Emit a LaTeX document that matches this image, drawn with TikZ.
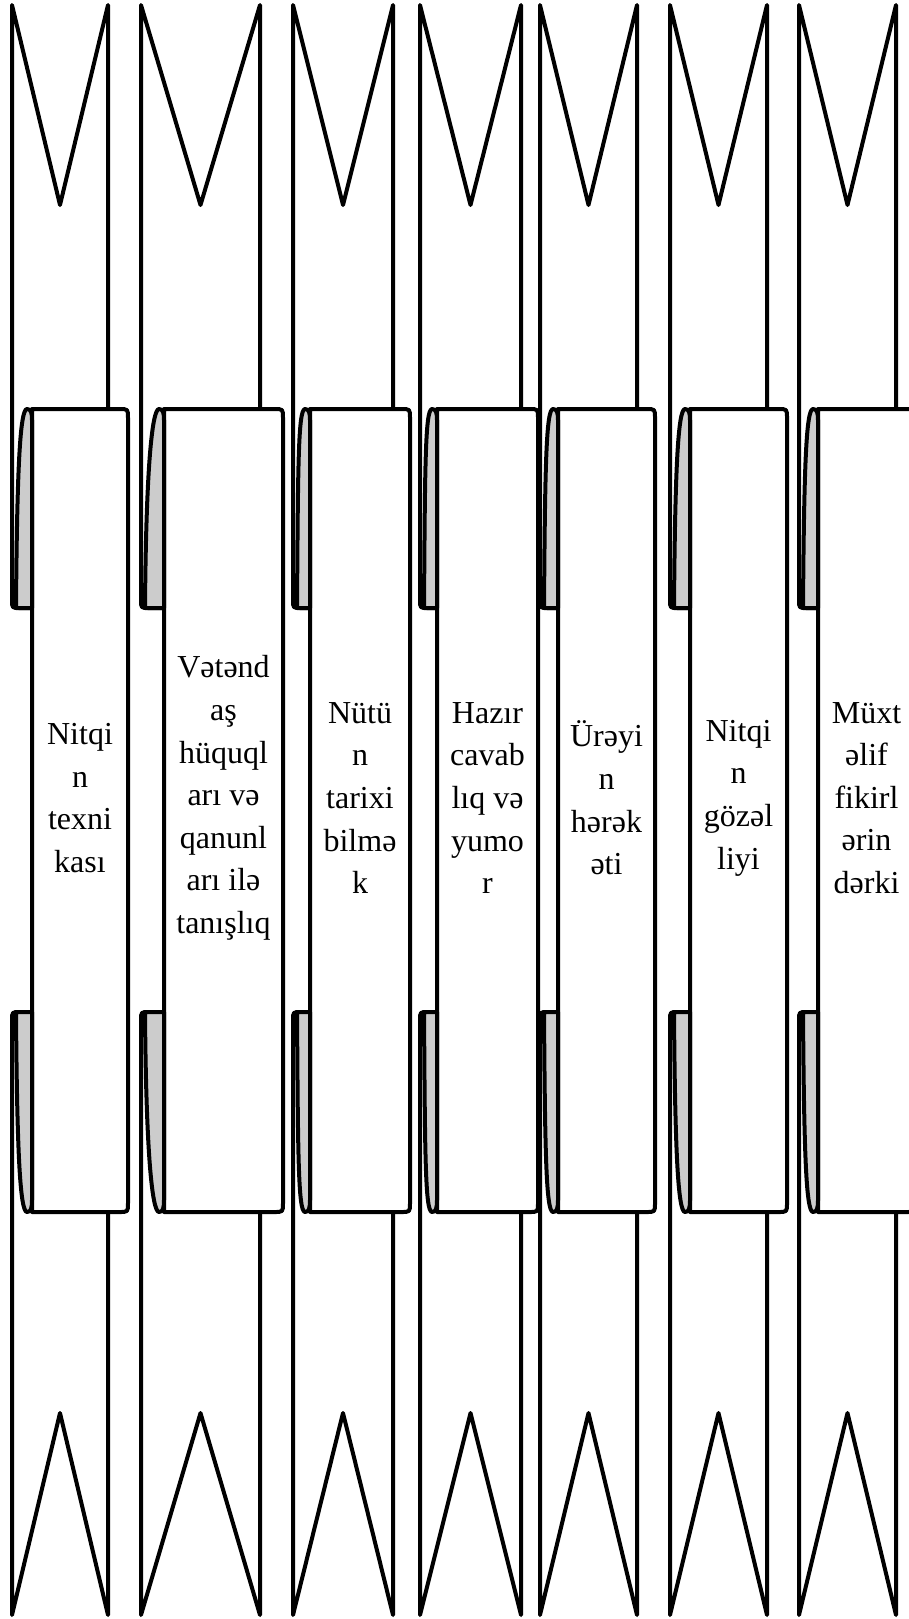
\documentclass[tikz,border=0pt]{standalone}
\usepackage{fontspec}
\setmainfont{Liberation Serif}

\begin{document}
\begin{tikzpicture}[
    x=1pt, y=-1pt,
    outline/.style={draw=black, line width=4pt, line join=round},
    fold/.style={outline, fill=gray!40},
    panel/.style={outline, fill=white},
    scrolltext/.style={align=center, inner sep=0pt, font=\fontsize{32}{42.6}\selectfont}
]

% Page frame
\clip (0,0) rectangle (909,1619);

% Scroll strips: index / tail left / width / panel shift / text
\foreach \i/\l/\w/\s/\txt in {
    1/12/96/20/{Nitqi\\n\\texni\\kası},
    2/141/119/23/{Vətənd\\aş\\hüquql\\arı və\\qanunl\\arı ilə\\tanışlıq},
    3/293/100/17/{Nütü\\n\\tarixi\\bilmə\\k},
    4/420/101/17/{Hazır\\cavab\\lıq və\\yumo\\r},
    5/540/97/18/{Ürəyi\\n\\hərək\\əti},
    6/670/97/20/{Nitqi\\n\\gözəl\\liyi},
    7/799/97/19/{Müxt\\əlif\\fikirl\\ərin\\dərki}} {
  \pgfmathsetmacro{\tailR}{\l+\w}
  \pgfmathsetmacro{\panL}{\l+\s}
  \pgfmathsetmacro{\panR}{\l+\s+\w}
  \pgfmathsetmacro{\tipX}{\l+\w/2}

  % Upper and lower tails
  \draw[outline] (\panL,608) -- (\l+8,608) .. controls (\l,608) .. (\l,600)
    -- (\l,5) -- (\tipX,205) -- (\tailR,5) -- (\tailR,409);
  \draw[outline] (\panL,1012) -- (\l+8,1012) .. controls (\l,1012) .. (\l,1020)
    -- (\l,1615) -- (\tipX,1413) -- (\tailR,1615) -- (\tailR,1212);

  % Front panel
  \draw[panel] (\panL,409) -- (\panR-9,409) .. controls (\panR,409) .. (\panR,418)
    -- (\panR,1203) .. controls (\panR,1212) .. (\panR-9,1212) -- (\panL,1212) -- cycle;

  % Rolled folds
  \draw[fold] (\l+4,608) .. controls (\l+5,470) and (\panL-12,409) .. (\panL-5,409)
    .. controls (\panL-1,409) and (\panL,413) .. (\panL,420) -- (\panL,608) -- cycle;
  \draw[fold] (\l+4,1012) .. controls (\l+5,1150) and (\panL-12,1212) .. (\panL-5,1212)
    .. controls (\panL-1,1212) and (\panL,1208) .. (\panL,1200) -- (\panL,1012) -- cycle;

  \node[scrolltext] (t\i) at ({\panL+\w/2},798) {\txt};
}

\end{tikzpicture}
\end{document}
